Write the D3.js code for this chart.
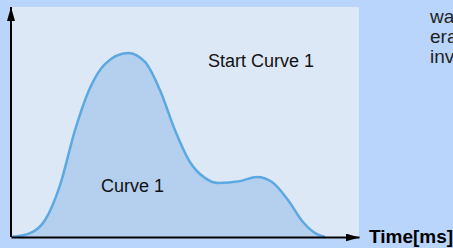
<!DOCTYPE html>
<html>
<head>
<meta charset="utf-8">
<script src="https://cdn.jsdelivr.net/npm/d3@7"></script>
<style>
  html, body { margin: 0; padding: 0; background: #bad5fc; }
  svg { display: block; }
</style>
</head>
<body>
<div id="chart"></div>
<script>
// curve samples (time in ms, amplitude 0..1)
const timeMs = [0, 5.5, 9.8, 14.1, 18.4, 22.7, 27, 33.6, 38.5, 42.8, 47.1, 51.4, 55.7, 59.5, 65.8, 70.7, 75, 79.6, 83.9, 87.4, 90.2];
const curve1 = [0, 0.017, 0.074, 0.226, 0.465, 0.648, 0.752, 0.8, 0.761, 0.639, 0.465, 0.326, 0.257, 0.235, 0.243, 0.261, 0.239, 0.161, 0.065, 0.017, 0];
const sideText = ['wa', 'era', 'inv'];

const width = 453, height = 248;
const plot = { left: 11, right: 359, top: 7, bottom: 237 };
const font = 'Liberation Sans, Arial, sans-serif';

const svg = d3.select('#chart').append('svg')
  .attr('width', width)
  .attr('height', height);

const x = d3.scaleLinear().domain([0, 100]).range([plot.left, plot.right]);
const y = d3.scaleLinear().domain([0, 1]).range([plot.bottom, plot.top]);

svg.append('rect')
  .attr('x', plot.left)
  .attr('y', plot.top)
  .attr('width', plot.right - plot.left)
  .attr('height', plot.bottom - plot.top)
  .attr('fill', '#dde8f6');

const pts = timeMs.map((t, i) => [t, curve1[i]]);

svg.append('path')
  .datum(pts)
  .attr('fill', '#b4d0ee')
  .attr('d', d3.area().curve(d3.curveMonotoneX).x(d => x(d[0])).y0(y(0)).y1(d => y(d[1])));

svg.append('path')
  .datum(pts)
  .attr('fill', 'none')
  .attr('stroke', '#5ca8e2')
  .attr('stroke-width', 2.5)
  .attr('d', d3.line().curve(d3.curveMonotoneX).x(d => x(d[0])).y(d => y(d[1])));

// axes: just the domain lines with arrowheads
const defs = svg.append('defs');
defs.append('marker')
  .attr('id', 'arrow')
  .attr('viewBox', '0 0 14 8')
  .attr('refX', 14).attr('refY', 4)
  .attr('markerWidth', 14).attr('markerHeight', 8)
  .attr('markerUnits', 'userSpaceOnUse')
  .attr('orient', 'auto')
  .append('path').attr('d', 'M0,0L14,4L0,8Z').attr('fill', '#000');

svg.append('g')
  .attr('transform', `translate(0,${plot.bottom})`)
  .call(d3.axisBottom(x).tickValues([]).tickSizeOuter(0))
  .call(g => g.select('.domain').attr('stroke-width', 2).attr('marker-end', 'url(#arrow)'));

svg.append('g')
  .attr('transform', `translate(${plot.left},0)`)
  .call(d3.axisLeft(y).tickValues([]).tickSizeOuter(0))
  .call(g => g.select('.domain').attr('stroke-width', 2).attr('d', `M0,${plot.bottom}V${plot.top}`).attr('marker-end', 'url(#arrow)'));

svg.append('text')
  .attr('x', 369).attr('y', 243)
  .attr('font-family', font)
  .attr('font-size', 19).attr('font-weight', 'bold')
  .text('Time[ms]');

svg.append('text')
  .attr('x', 208).attr('y', 67)
  .attr('font-family', font)
  .attr('font-size', 18).attr('fill', '#111')
  .text('Start Curve 1');

svg.append('text')
  .attr('x', 101).attr('y', 192)
  .attr('font-family', font)
  .attr('font-size', 18).attr('fill', '#111')
  .text('Curve 1');

// paragraph running off the right edge, as in the original
svg.append('g')
  .selectAll('text')
  .data(sideText)
  .join('text')
  .attr('x', 430)
  .attr('y', (d, i) => 23 + i * 20)
  .attr('font-family', font)
  .attr('font-size', 19).attr('fill', '#222')
  .text(d => d);
</script>
</body>
</html>
